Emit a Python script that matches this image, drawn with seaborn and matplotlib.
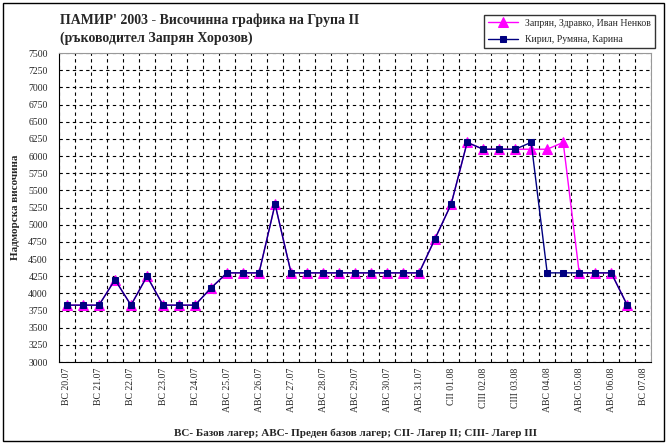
import matplotlib
matplotlib.use("Agg")
import matplotlib.pyplot as plt
from matplotlib.patches import Rectangle
import seaborn as sns
import numpy as np

# altitudes per half-day slot (36 slots), ВС 20.07 ... АВС 06.08
group_a = [3830, 3830, 3830, 4200, 3830, 4250, 3830, 3830, 3830, 4080,
           4300, 4300, 4300, 5300, 4300, 4300, 4300, 4300, 4300, 4300,
           4300, 4300, 4300, 4800, 5300, 6200, 6100, 6100, 6100, 6100,
           6100, 6200, 4300, 4300, 4300, 3830]
group_b = [3830, 3830, 3830, 4200, 3830, 4250, 3830, 3830, 3830, 4080,
           4300, 4300, 4300, 5300, 4300, 4300, 4300, 4300, 4300, 4300,
           4300, 4300, 4300, 4800, 5300, 6200, 6100, 6100, 6100, 6200,
           4300, 4300, 4300, 4300, 4300, 3830]
day_labels = ["ВС 20.07", "ВС 21.07", "ВС 22.07", "ВС 23.07", "ВС 24.07",
              "АВС 25.07", "АВС 26.07", "АВС 27.07", "АВС 28.07", "АВС 29.07",
              "АВС 30.07", "АВС 31.07", "СII 01.08", "СIII 02.08", "СIII 03.08",
              "АВС 04.08", "АВС 05.08", "АВС 06.08", "ВС 07.08"]
series_names = ["Запрян, Здравко, Иван Ненков", "Кирил, Румяна, Карина"]

sns.set_style("white")
plt.rcParams['font.family'] = ['Liberation Serif', 'DejaVu Serif']

n_slots = 2 * len(day_labels) - 1
fig = plt.figure(figsize=(6.7, 4.46), dpi=100)
ax = fig.add_axes([0.088, 0.188, 0.884, 0.693])

xs = np.arange(len(group_a))
sns.lineplot(x=xs, y=group_a, ax=ax, color="#FF00FF", marker="^", markersize=6.5,
             markeredgecolor="#FF00FF", linewidth=1, label=series_names[0])
sns.lineplot(x=xs, y=group_b, ax=ax, color="#000080", marker="s", markersize=5,
             markeredgecolor="#000080", linewidth=1, label=series_names[1])

ax.set_xlim(-0.5, n_slots - 0.5)
ax.set_ylim(3000, 7500)
ax.set_yticks(np.arange(3000, 7501, 250))
ax.set_xticks(np.arange(0, n_slots, 2))
ax.set_xticklabels(day_labels, rotation=90, fontsize=7)
ax.set_xticks(np.arange(-0.5, n_slots, 1), minor=True)
ax.tick_params(axis="y", labelsize=7, direction="inout", length=6, width=0.8, pad=5)
ax.tick_params(axis="x", which="major", length=0, pad=4)
ax.tick_params(axis="x", which="minor", direction="inout", length=6, width=0.8)
ax.grid(axis="y", which="major", color="black", linestyle=(0, (3, 3)), linewidth=0.8)
ax.grid(axis="x", which="minor", color="black", linestyle=(0, (3, 3)), linewidth=0.8)
ax.set_axisbelow(True)

for side in ["top", "right"]:
    ax.spines[side].set_color("#999999")
    ax.spines[side].set_linewidth(0.8)
for side in ["left", "bottom"]:
    ax.spines[side].set_color("black")
    ax.spines[side].set_linewidth(0.8)

ax.set_ylabel("Надморска височина", fontsize=8, fontweight="bold", labelpad=6)
ax.set_xlabel("ВС- Базов лагер; АВС- Преден базов лагер; СII- Лагер II; СIII- Лагер III",
              fontsize=8, fontweight="bold", labelpad=12)

fig.text(0.09, 0.955, "ПАМИР' 2003 - Височинна графика на Група II",
         fontsize=10, fontweight="bold", va="center")
fig.text(0.09, 0.915, "(ръководител Запрян Хорозов)",
         fontsize=10, fontweight="bold", va="center")

leg = ax.legend(loc="upper right", bbox_to_anchor=(0.985, 0.978),
                bbox_transform=fig.transFigure, fontsize=7, frameon=True,
                fancybox=False, edgecolor="black", handlelength=3,
                borderpad=0.4, labelspacing=0.8)
leg.get_frame().set_linewidth(1)

fig.patches.append(Rectangle((0.0045, 0.011), 0.986, 0.982, transform=fig.transFigure,
                             fill=False, edgecolor="black", linewidth=1))

fig.savefig("out.png", dpi=100)
